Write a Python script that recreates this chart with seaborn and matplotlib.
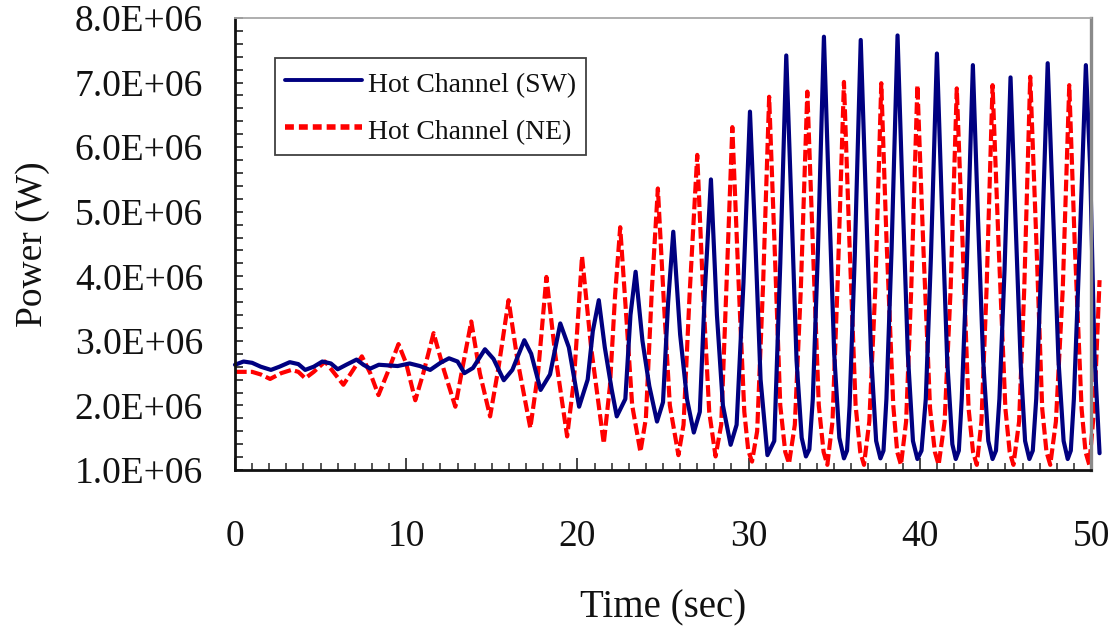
import numpy as np
import pandas as pd
import matplotlib
matplotlib.use("Agg")
import matplotlib.pyplot as plt
from matplotlib.lines import Line2D
from matplotlib.ticker import MultipleLocator, FuncFormatter
import seaborn as sns

# ---- data ----
# Hot Channel (SW): time [s], power [MW]
sw_time = [0.0, 0.5, 1.0, 1.5, 2.1, 2.6, 3.2, 3.7, 4.1, 4.6, 5.1, 5.6, 6.0, 6.5, 7.1, 7.5, 7.9, 8.4,
           9.0, 9.5, 10.2, 10.8, 11.4, 12.0, 12.5, 13.0, 13.4, 13.9, 14.6, 15.1, 15.7, 16.2, 16.9, 17.3,
           17.85, 18.4, 19.0, 19.5, 20.1, 20.6, 20.9, 21.25, 21.6, 22.0, 22.3, 22.8, 23.1, 23.4, 23.8,
           24.2, 24.65, 25.0, 25.3, 25.6, 26.0, 26.4, 26.8, 27.15, 27.45, 27.8, 28.15, 28.5, 28.95,
           29.3, 29.7, 30.08, 30.4, 30.7, 31.1, 31.5, 31.85, 32.2, 32.5, 32.8, 33.1, 33.35, 33.55, 33.75,
           34.05, 34.4, 34.7, 35.0, 35.3, 35.57, 35.75, 35.9, 36.2, 36.55, 36.85, 37.15, 37.45, 37.7,
           37.88, 38.05, 38.35, 38.7, 39.0, 39.3, 39.6, 39.86, 40.1, 40.35, 40.65, 41.0, 41.3, 41.6,
           41.9, 42.1, 42.28, 42.45, 42.75, 43.1, 43.4, 43.7, 44.0, 44.25, 44.45, 44.65, 44.95, 45.3,
           45.6, 45.9, 46.15, 46.4, 46.6, 46.8, 47.1, 47.47, 47.8, 48.1, 48.4, 48.64, 48.82, 49.0,
           49.3, 49.7, 49.95, 50.2, 50.5]
sw_power_mw = [2.63, 2.68, 2.66, 2.60, 2.55, 2.60, 2.67, 2.64, 2.55, 2.60, 2.68, 2.65, 2.56, 2.63, 2.71,
               2.63, 2.57, 2.63, 2.62, 2.61, 2.65, 2.61, 2.55, 2.66, 2.73, 2.68, 2.50, 2.58, 2.87, 2.72,
               2.39, 2.55, 3.01, 2.80, 2.24, 2.48, 3.27, 2.90, 1.98, 2.40, 3.15, 3.63, 2.90, 2.25, 1.83,
               2.10, 3.40, 4.07, 3.00, 2.30, 1.75, 2.05, 3.60, 4.69, 3.10, 2.10, 1.58, 1.90, 3.80, 5.50,
               3.40, 2.00, 1.39, 1.70, 3.90, 6.55, 4.50, 2.40, 1.23, 1.45, 4.20, 7.42, 5.10, 2.70, 1.50,
               1.21, 1.32, 2.10, 4.40, 7.71, 5.20, 2.80, 1.50, 1.18, 1.30, 2.00, 4.30, 7.66, 5.20, 2.80,
               1.45, 1.18, 1.30, 2.10, 4.40, 7.73, 5.20, 2.80, 1.45, 1.17, 1.30, 2.10, 4.30, 7.45, 5.00,
               2.70, 1.40, 1.17, 1.30, 2.10, 4.20, 7.27, 4.90, 2.70, 1.45, 1.17, 1.30, 2.10, 4.10, 7.08,
               4.80, 2.60, 1.45, 1.17, 1.30, 2.10, 4.20, 7.30, 4.90, 2.70, 1.45, 1.17, 1.30, 2.10, 4.20,
               7.27, 5.70, 2.80, 1.26]

# Hot Channel (NE): time [s], power [MW]
ne_time = [0.0, 1.0, 1.5, 2.05, 2.7, 3.3, 3.7, 4.1, 4.6, 5.26, 5.8, 6.33, 6.9, 7.41, 7.9, 8.38, 8.9,
           9.55, 10.0, 10.53, 11.0, 11.6, 12.2, 12.87, 13.3, 13.8, 14.3, 14.9, 15.4, 15.98, 16.5,
           17.25, 17.7, 18.19, 18.7, 19.4, 19.8, 20.27, 20.8, 21.54, 21.9, 22.2, 22.5, 22.9, 23.2,
           23.68, 24.0, 24.35, 24.7, 25.05, 25.4, 25.9, 26.2, 26.55, 27.0, 27.35, 27.7, 28.07, 28.4,
           28.7, 29.05, 29.4, 29.75, 29.98, 30.2, 30.5, 30.85, 31.2, 31.5, 31.85, 32.14, 32.36, 32.7,
           33.05, 33.43, 33.75, 34.1, 34.38, 34.6, 34.9, 35.2, 35.57, 35.88, 36.25, 36.52, 36.74,
           37.05, 37.4, 37.75, 38.05, 38.45, 38.68, 38.9, 39.2, 39.5, 39.86, 40.2, 40.6, 40.88, 41.1,
           41.45, 41.8, 42.16, 42.5, 42.85, 43.11, 43.33, 43.6, 43.9, 44.25, 44.6, 45.0, 45.25, 45.47,
           45.8, 46.1, 46.45, 46.8, 47.15, 47.4, 47.62, 47.95, 48.35, 48.73, 49.05, 49.45, 49.68,
           49.9, 50.2, 50.5]
ne_power_mw = [2.52, 2.52, 2.48, 2.41, 2.50, 2.55, 2.52, 2.42, 2.52, 2.68, 2.50, 2.32, 2.55, 2.76, 2.50,
               2.16, 2.50, 2.95, 2.65, 2.08, 2.50, 3.12, 2.55, 1.98, 2.60, 3.30, 2.50, 1.83, 2.60, 3.63,
               2.70, 1.65, 2.50, 3.99, 2.80, 1.52, 2.40, 4.31, 2.90, 1.41, 2.30, 3.70, 4.76, 3.20, 2.00,
               1.28, 1.80, 3.80, 5.36, 3.60, 2.00, 1.23, 1.70, 3.70, 5.88, 3.70, 1.90, 1.21, 1.70, 3.80,
               6.31, 4.00, 1.90, 1.30, 1.13, 1.60, 3.90, 6.78, 4.60, 2.00, 1.28, 1.10, 1.70, 3.80, 6.86,
               4.50, 2.00, 1.28, 1.08, 1.75, 3.90, 7.01, 4.60, 2.00, 1.28, 1.08, 1.75, 3.80, 6.99, 4.60,
               2.00, 1.28, 1.08, 1.75, 3.80, 6.96, 4.50, 1.95, 1.28, 1.08, 1.75, 3.80, 6.91, 4.50, 1.95,
               1.28, 1.08, 1.75, 3.80, 6.96, 4.50, 1.95, 1.28, 1.08, 1.75, 3.80, 7.09, 4.60, 1.95, 1.28,
               1.08, 1.75, 3.80, 6.96, 4.50, 1.95, 1.28, 1.08, 2.00, 3.94]

series_labels = ["Hot Channel (SW)", "Hot Channel (NE)"]
x_ticks = [0, 10, 20, 30, 40, 50]
y_ticks = [1e6, 2e6, 3e6, 4e6, 5e6, 6e6, 7e6, 8e6]

sw_df = pd.DataFrame({"t": sw_time, "p": np.array(sw_power_mw) * 1e6})
ne_df = pd.DataFrame({"t": ne_time, "p": np.array(ne_power_mw) * 1e6})

# ---- style ----
sns.set_style("ticks")
plt.rcParams["font.family"] = ["Liberation Serif", "DejaVu Serif"]
plt.rcParams["text.color"] = "#111111"

BLUE = "#000080"
RED = "#ff0000"

fig = plt.figure(figsize=(11.2, 6.35), dpi=100)
ax = fig.add_axes([235 / 1120, 1 - 470 / 635, (1091 - 235) / 1120, (470 - 18) / 635])

sns.lineplot(data=sw_df, x="t", y="p", ax=ax, color=BLUE, linewidth=3.0,
             estimator=None, sort=False, clip_on=False, zorder=3)
sns.lineplot(data=ne_df, x="t", y="p", ax=ax, color=RED, linewidth=3.0,
             linestyle=(0, (2.8, 1.0)), estimator=None, sort=False, clip_on=False, zorder=2)

ax.set_xlim(0, 50)
ax.set_ylim(1e6, 8e6)
ax.set_xticks(x_ticks)
ax.set_yticks(y_ticks)
ax.xaxis.set_minor_locator(MultipleLocator(1))
ax.yaxis.set_minor_locator(MultipleLocator(0.2e6))
ax.yaxis.set_major_formatter(FuncFormatter(lambda v, p: f"{v:.1E}"))

ax.tick_params(axis="x", which="major", direction="in", length=9, width=1.1,
               labelsize=27, pad=36, colors="#111111")
ax.tick_params(axis="x", which="minor", direction="in", length=5, width=1.1)
ax.tick_params(axis="y", which="both", direction="in", length=5.5, width=1.1,
               labelsize=27, pad=23, colors="#111111")

for s in ["left", "bottom"]:
    ax.spines[s].set_color("#111111")
    ax.spines[s].set_linewidth(2.0)
ax.spines["top"].set_color("#a8a8a8")
ax.spines["top"].set_linewidth(1.3)
ax.spines["right"].set_color("#8a8a8a")
ax.spines["right"].set_linewidth(2.4)
for s in ax.spines.values():
    s.set_zorder(5)

ax.set_xlabel("Time (sec)", fontsize=28, color="#111111")
ax.xaxis.set_label_coords(0.5, -0.265)
ax.set_ylabel("Power (W)", fontsize=27, color="#111111", va="center")
ax.yaxis.set_label_coords(-0.236, 0.5)

handles = [Line2D([0], [0], color=BLUE, linewidth=2.8),
           Line2D([0], [0], color=RED, linewidth=4.0, linestyle=(0, (1.6, 0.9)))]
leg = ax.legend(handles, series_labels, loc="upper left", bbox_to_anchor=(0.0467, 0.911),
                borderaxespad=0, frameon=True, fancybox=False, fontsize=20,
                handlelength=2.8, handleheight=1.25, handletextpad=0.2, labelspacing=0.62,
                borderpad=0.35)
leg.get_frame().set_edgecolor("#111111")
leg.get_frame().set_linewidth(1.3)
leg.set_zorder(10)

fig.savefig("out.png", dpi=100)
